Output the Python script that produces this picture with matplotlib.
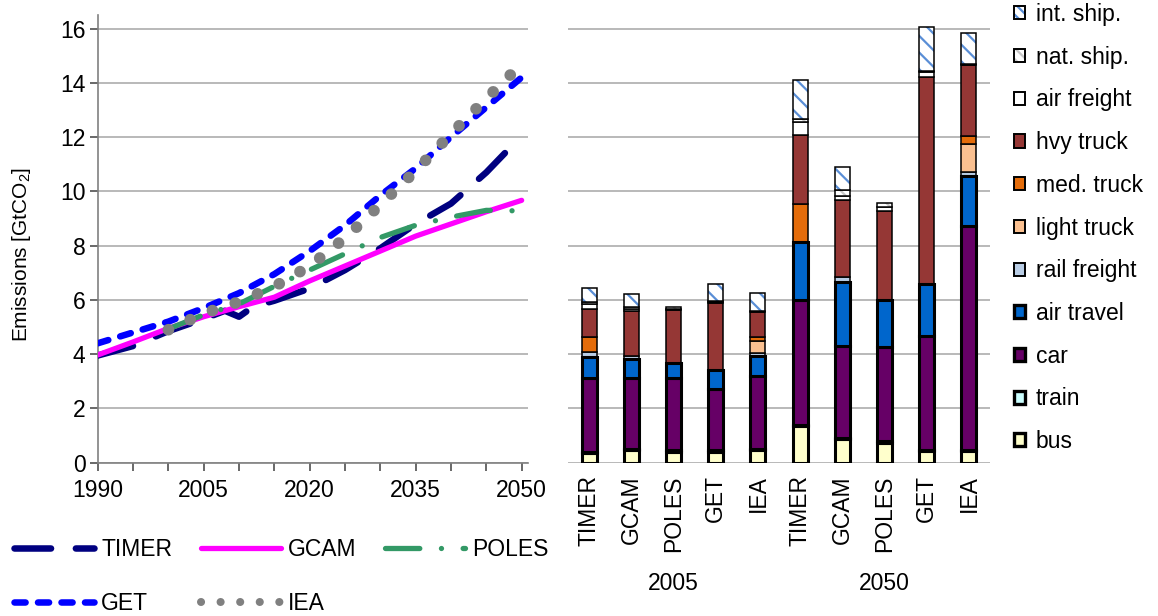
import numpy as np
import matplotlib
matplotlib.use('Agg')
import matplotlib.pyplot as plt
from matplotlib.lines import Line2D
from matplotlib.patches import Patch
from matplotlib.legend_handler import HandlerTuple
from matplotlib.transforms import ScaledTranslation, blended_transform_factory

plt.rcParams['font.family'] = ['Liberation Sans', 'DejaVu Sans']
plt.rcParams['font.size'] = 16.5
plt.rcParams['mathtext.default'] = 'regular'
plt.rcParams['hatch.linewidth'] = 1.6

# ---------------- line chart data (GtCO2) ----------------
timer_years = [1990, 1995, 2000, 2005, 2008, 2010, 2012, 2015, 2020, 2025, 2030, 2035, 2040, 2045, 2050]
timer_vals = [3.95, 4.30, 4.85, 5.30, 5.60, 5.38, 5.75, 5.97, 6.42, 7.10, 7.90, 8.80, 9.55, 10.70, 12.05]

gcam_years = [1990, 1995, 2000, 2005, 2010, 2015, 2020, 2025, 2030, 2035, 2040, 2045, 2050]
gcam_vals = [3.97, 4.45, 4.95, 5.38, 5.75, 6.10, 6.70, 7.25, 7.80, 8.35, 8.80, 9.25, 9.67]

poles_years = [2000, 2005, 2010, 2015, 2020, 2025, 2030, 2035, 2040, 2045, 2050]
poles_vals = [4.93, 5.45, 5.85, 6.50, 7.10, 7.70, 8.30, 8.75, 9.05, 9.30, 9.28]

get_years = [1990, 1995, 2000, 2005, 2010, 2015, 2020, 2025, 2030, 2035, 2040, 2045, 2050]
get_vals = [4.40, 4.80, 5.20, 5.70, 6.25, 6.95, 7.80, 8.75, 9.85, 10.85, 12.00, 13.10, 14.20]

iea_years = [2000, 2005, 2010, 2015, 2020, 2025, 2030, 2035, 2040, 2045, 2050]
iea_vals = [4.90, 5.50, 5.93, 6.49, 7.25, 8.28, 9.51, 10.76, 12.12, 13.42, 14.70]

# ---------------- bar chart data (GtCO2) ----------------
models = ['TIMER', 'GCAM', 'POLES', 'GET', 'IEA', 'TIMER', 'GCAM', 'POLES', 'GET', 'IEA']
groups = ['2005', '2050']

bus = [0.34, 0.46, 0.40, 0.40, 0.46, 1.35, 0.86, 0.74, 0.43, 0.43]
train = [0.06, 0.05, 0.05, 0.05, 0.05, 0.05, 0.05, 0.05, 0.05, 0.05]
car = [2.72, 2.61, 2.69, 2.28, 2.69, 4.60, 3.38, 3.46, 4.19, 8.23]
air_travel = [0.76, 0.70, 0.52, 0.68, 0.74, 2.15, 2.38, 1.75, 1.91, 1.87]
rail_freight = [0.20, 0.10, 0.00, 0.00, 0.11, 0.00, 0.16, 0.00, 0.00, 0.12]
light_truck = [0.00, 0.00, 0.00, 0.00, 0.42, 0.00, 0.00, 0.00, 0.00, 1.05]
med_truck = [0.54, 0.00, 0.00, 0.00, 0.15, 1.39, 0.00, 0.00, 0.00, 0.30]
hvy_truck = [1.05, 1.68, 1.97, 2.46, 0.92, 2.53, 2.84, 3.26, 7.62, 2.59]
air_freight = [0.18, 0.08, 0.05, 0.05, 0.04, 0.47, 0.17, 0.15, 0.20, 0.03]
nat_ship = [0.07, 0.06, 0.07, 0.05, 0.02, 0.14, 0.20, 0.17, 0.05, 0.02]
int_ship = [0.52, 0.48, 0.00, 0.62, 0.64, 1.42, 0.86, 0.00, 1.60, 1.15]

# (label, values, face, hatch, hatch colour, passenger?)
segments = [
    ('bus', bus, '#FFFFCC', None, None, True),
    ('train', train, '#CCFFFF', None, None, True),
    ('car', car, '#660066', None, None, True),
    ('air travel', air_travel, '#0066CC', None, None, True),
    ('rail freight', rail_freight, '#B9CDE5', None, None, False),
    ('light truck', light_truck, '#FAC090', None, None, False),
    ('med. truck', med_truck, '#E46C0A', None, None, False),
    ('hvy truck', hvy_truck, '#953735', None, None, False),
    ('air freight', air_freight, '#FFFFFF', None, None, False),
    ('nat. ship.', nat_ship, '#FFFFFF', '\\\\', '#C8C8C8', False),
    ('int. ship.', int_ship, '#FFFFFF', '\\\\', '#5A8ED6', False),
]

fig = plt.figure(figsize=(11.58, 6.16), dpi=100)
ax1 = fig.add_axes([97.7 / 1158, 153.3 / 616, 430.3 / 1158, 447.7 / 616])
ax2 = fig.add_axes([568 / 1158, 153.3 / 616, 422 / 1158, 447.7 / 616])

grid_c = '#A6A6A6'
spine_c = '#808080'

# ---------------- left: line chart ----------------
ax1.plot(timer_years, timer_vals, color='#000080', lw=4.7, dashes=(5.6, 3.8),
         dash_capstyle='round', solid_capstyle='round', zorder=3)
ax1.plot(get_years, get_vals, color='#0000FF', lw=4.7, dashes=(1.7, 1.9),
         dash_capstyle='round', zorder=4)
ax1.plot(gcam_years, gcam_vals, color='#FF00FF', lw=3.8, solid_capstyle='round', zorder=5)
ax1.plot(poles_years, poles_vals, color='#339966', lw=3.8, dashes=(6.5, 4.1, 0.01, 4.1),
         dash_capstyle='round', zorder=6)
ax1.plot(iea_years, iea_vals, color='#808080', lw=8.4, dashes=(0.01, 2.05),
         dash_capstyle='round', zorder=7)

ax1.set_xlim(1990, 2050.9)
ax1.set_ylim(0, 16.5)
ax1.set_yticks(range(0, 17, 2))
ax1.set_xticks(range(1990, 2051, 5))
ax1.set_xticklabels([str(y) if (y - 1990) % 15 == 0 else '' for y in range(1990, 2051, 5)])
for lab in ax1.get_xticklabels():
    lab.set_transform(lab.get_transform() + ScaledTranslation(5 / 100, 0, fig.dpi_scale_trans))
ax1.yaxis.grid(True, color=grid_c, lw=1.1)
ax1.set_axisbelow(True)
for s in ['top', 'right']:
    ax1.spines[s].set_visible(False)
for s in ['left', 'bottom']:
    ax1.spines[s].set_color(spine_c)
    ax1.spines[s].set_linewidth(1.2)
ax1.tick_params(axis='y', length=5.8, width=1.1, color='#404040', pad=3)
ax1.tick_params(axis='x', length=5.8, width=1.1, color='#404040', pad=6)
ax1.set_ylabel('Emissions [GtCO$_2$]', fontsize=15)
ax1.yaxis.set_label_coords(-0.15, 0.466)

# ---------------- right: stacked bars ----------------
x = np.arange(len(models))
bottom = np.zeros(len(models))
width = 0.36
handles = []
for label, vals, face, hatch, hcol, passenger in segments:
    v = np.array(vals, dtype=float)
    idx = v > 0
    lw = 2.2 if passenger else 1.1
    z = 3 if passenger else 2
    if hatch:
        ax2.bar(x[idx], v[idx], width, bottom=bottom[idx], color=face, edgecolor=hcol,
                hatch=hatch, lw=0, zorder=z)
        ax2.bar(x[idx], v[idx], width, bottom=bottom[idx], facecolor='none',
                edgecolor='black', lw=lw, zorder=z)
        handles.append((Patch(facecolor=face, edgecolor=hcol, hatch='\\\\\\', lw=0),
                        Patch(facecolor='none', edgecolor='black', lw=1.4)))
    else:
        handles.append(Patch(facecolor=face, edgecolor='black', lw=(2.4 if passenger else 1.4)))
        ax2.bar(x[idx], v[idx], width, bottom=bottom[idx], color=face, edgecolor='black',
                lw=lw, zorder=z)
    bottom += v
labels = [s[0] for s in segments]

ax2.set_xlim(-0.5, len(models) - 0.5)
ax2.set_ylim(0, 16.5)
ax2.set_yticks(range(0, 17, 2))
ax2.set_yticklabels([])
ax2.yaxis.grid(True, color=grid_c, lw=1.1)
ax2.set_axisbelow(True)
for s in ax2.spines.values():
    s.set_visible(False)
ax2.set_xticks(x)
ax2.set_xticklabels(models, rotation=90, va='top', ha='center')
ax2.tick_params(axis='both', length=0)
ax2.tick_params(axis='x', pad=9)
tr = blended_transform_factory(ax2.transData, fig.transFigure)
ax2.text(2, (616 - 583.5) / 616, groups[0], transform=tr, ha='center', va='center')
ax2.text(7, (616 - 583.5) / 616, groups[1], transform=tr, ha='center', va='center')

# right legend
fig.legend(handles[::-1], labels[::-1], loc='upper left',
           bbox_to_anchor=(1014 / 1158, 1 - 3 / 616), frameon=False,
           handlelength=0.5, handleheight=0.5, handletextpad=0.45,
           labelspacing=0.86, borderpad=0, borderaxespad=0,
           handler_map={tuple: HandlerTuple(ndivide=1, pad=0)})

# left legend
lh = [
    Line2D([], [], color='#000080', lw=4.7, dashes=(5.6, 3.8), dash_capstyle='round'),
    Line2D([], [], color='#0000FF', lw=4.7, dashes=(1.7, 1.9), dash_capstyle='round'),
    Line2D([], [], color='#FF00FF', lw=3.8, solid_capstyle='round'),
    Line2D([], [], color='#808080', lw=5.8, dashes=(0.01, 2.42), dash_capstyle='round'),
    Line2D([], [], color='#339966', lw=3.8, dashes=(6.5, 4.1, 0.01, 4.1), dash_capstyle='round'),
]
ll = ['TIMER', 'GET', 'GCAM', 'IEA', 'POLES']
fig.legend(lh, ll, loc='upper left', ncol=3, bbox_to_anchor=(14 / 1158, 1 - 538 / 616),
           frameon=False, handlelength=3.5, handletextpad=0.3, columnspacing=1.25,
           labelspacing=1.36, borderpad=0, borderaxespad=0)

fig.savefig('out.png', dpi=100)
